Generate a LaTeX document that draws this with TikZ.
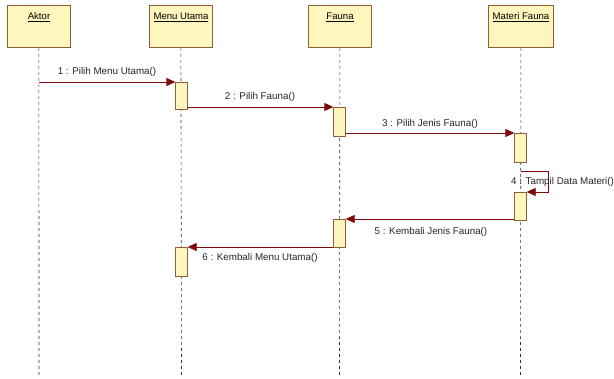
\documentclass[tikz,border=0pt]{standalone}
\usepackage{fontspec}
\setmainfont{Liberation Sans}
\usetikzlibrary{arrows.meta}
\definecolor{objfill}{RGB}{255,246,190}
\definecolor{objline}{RGB}{140,95,55}
\definecolor{msgline}{RGB}{128,10,10}
\tikzset{
  objbox/.style={draw=objline, fill=objfill, line width=0.8pt, minimum width=63pt, minimum height=42pt, anchor=north west, inner sep=0pt},
  objname/.style={font=\fontsize{9.6}{11}\selectfont, inner sep=0pt},
  lifeline/.style={draw=black!80, dash pattern=on 3pt off 3pt, line width=0.6pt},
  actbox/.style={draw=objline, fill=objfill, line width=0.8pt, minimum width=11.5pt, inner sep=0pt},
  msg/.style={draw=msgline, line width=0.8pt, -{Triangle[length=9pt,width=8pt]}, shorten >=0pt},
  msglabel/.style={font=\fontsize{9.8}{11}\selectfont, inner sep=0pt, text=black!85}
}
\begin{document}
\begin{tikzpicture}[x=1pt,y=-1pt]
\useasboundingbox (0,0) rectangle (614,379);
\fill[white] (0,0) rectangle (614,379);

% object heads
\node[objbox] (hA) at (7,5) {};
\node[objbox] (hM) at (149,5) {};
\node[objbox] (hF) at (308,5) {};
\node[objbox, minimum width=65pt] (hT) at (488,5) {};
\node[objname] at (39,17) {\underline{Aktor}};
\node[objname] at (181,17) {\underline{Menu Utama}};
\node[objname] at (340,17) {\underline{Fauna}};
\node[objname] at (521,17) {\underline{Materi Fauna}};

% lifeline ends
\coordinate (eA) at (39,376);
\coordinate (eM) at (181.5,376);
\coordinate (eF) at (339.5,376);
\coordinate (eT) at (520.5,376);
\draw[lifeline] (hA.south) -- (eA);
\draw[lifeline] (hM.south) -- (eM);
\draw[lifeline] (hF.south) -- (eF);
\draw[lifeline] (hT.south) -- (eT);

% activations
\node[actbox, minimum height=27pt, anchor=north] (aM1) at (181.5,82) {};
\node[actbox, minimum height=29pt, anchor=north] (aF1) at (339.5,107) {};
\node[actbox, minimum height=29pt, anchor=north] (aT1) at (520.5,133) {};
\node[actbox, minimum height=28pt, anchor=north] (aT2) at (520.5,192) {};
\node[actbox, minimum height=28pt, anchor=north] (aF2) at (339.5,219) {};
\node[actbox, minimum height=29pt, anchor=north] (aM2) at (181.5,247) {};

% messages
\coordinate (sA) at (39,82);
\draw[msg] (sA) -- (aM1.north west);
\node[msglabel] at (107,72) {1 : Pilih Menu Utama()};

\draw[msg] (aF1.north west -| aM1.east) -- (aF1.north west);
\node[msglabel] at (260,97) {2 : Pilih Fauna()};

\draw[msg] (aT1.north west -| aF1.east) -- (aT1.north west);
\node[msglabel] at (430,124) {3 : Pilih Jenis Fauna()};

\coordinate (l1) at (521,171);
\coordinate (l2) at (548,171);
\coordinate (l3) at (548,192);
\draw[msg] (l1) -- (l2) -- (l3) -- (aT2.north east);
\node[msglabel, anchor=west] at (511,182) {4 : Tampil Data Materi()};

\draw[msg] (aF2.north east -| aT2.west) -- (aF2.north east);
\node[msglabel] at (431,232) {5 : Kembali Jenis Fauna()};

\draw[msg] (aM2.north east -| aF2.west) -- (aM2.north east);
\node[msglabel] at (260,258) {6 : Kembali Menu Utama()};
\end{tikzpicture}
\end{document}
